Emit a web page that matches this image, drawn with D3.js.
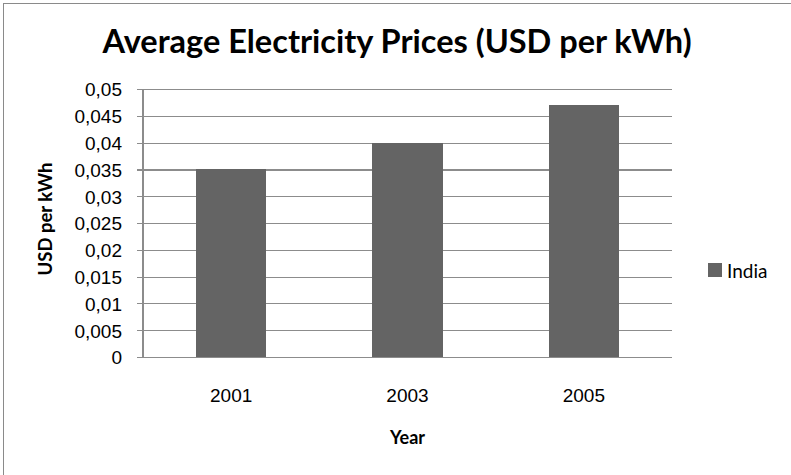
<!DOCTYPE html>
<html>
<head>
<meta charset="utf-8">
<script src="https://cdn.jsdelivr.net/npm/d3@7"></script>
<style>
  html, body { margin: 0; padding: 0; background: #fff; }
  svg { display: block; font-family: Lato, "Open Sans", sans-serif; }
</style>
</head>
<body>
<svg id="chart" width="791" height="475"></svg>
<script>
// Average electricity prices for India, USD per kWh
const years = ["2001", "2003", "2005"];
const prices = [0.035, 0.040, 0.047];
const seriesName = "India";
const yTicks = [0, 0.005, 0.01, 0.015, 0.02, 0.025, 0.03, 0.035, 0.04, 0.045, 0.05];

const svg = d3.select("#chart");
const W = 791, H = 475;
const margin = { left: 143, right: W - 672, top: 89, bottom: H - 357 };
const barColor = "#646464";
const gridColor = "#8c8c8c";

// Chart frame
svg.append("rect")
  .attr("x", 3.5).attr("y", 3.5)
  .attr("width", 820).attr("height", 500)
  .attr("fill", "#fff")
  .attr("stroke", "#8a8a8a").attr("stroke-width", 1);

const x = d3.scaleBand()
  .domain(years)
  .range([margin.left, W - margin.right])
  .paddingInner(0.6).paddingOuter(0.3);

const y = d3.scaleLinear()
  .domain([0, 0.05])
  .range([H - margin.bottom, margin.top]);

const fmt = v => d3.format("")(+v.toFixed(3)).replace(".", ",");

// Horizontal gridlines with ticks
const yAxis = d3.axisLeft(y)
  .tickValues(yTicks)
  .tickSize(-(W - margin.left - margin.right))
  .tickPadding(0)
  .tickFormat(fmt);

const gy = svg.append("g")
  .attr("transform", `translate(${margin.left},0)`)
  .call(yAxis);
gy.select(".domain").remove();
gy.selectAll(".tick line")
  .attr("x1", -6)
  .attr("stroke", gridColor)
  .attr("stroke-width", 1.2)
  .attr("shape-rendering", "crispEdges");
gy.selectAll(".tick text")
  .attr("x", -21)
  .attr("dy", "0.36em")
  .attr("font-size", 19)
  .attr("fill", "#000");

// Vertical axis line
svg.append("line")
  .attr("x1", margin.left).attr("x2", margin.left)
  .attr("y1", margin.top).attr("y2", H - margin.bottom)
  .attr("stroke", gridColor).attr("stroke-width", 1.2)
  .attr("shape-rendering", "crispEdges");

// Bars
svg.append("g").selectAll("rect")
  .data(prices)
  .join("rect")
  .attr("x", (d, i) => x(years[i]))
  .attr("width", x.bandwidth())
  .attr("y", d => y(d))
  .attr("height", d => y(0) - y(d))
  .attr("fill", barColor)
  .attr("shape-rendering", "crispEdges");

// Category labels
const xAxis = d3.axisBottom(x).tickSize(0).tickPadding(0);
const gx = svg.append("g")
  .attr("transform", `translate(0,${H - margin.bottom})`)
  .call(xAxis);
gx.select(".domain").remove();
gx.selectAll(".tick text")
  .attr("y", 45)
  .attr("dy", 0)
  .attr("font-size", 19)
  .attr("fill", "#000");

// Title
svg.append("text")
  .attr("x", 397).attr("y", 53)
  .attr("text-anchor", "middle")
  .attr("font-size", 32.5)
  .attr("font-weight", "bold")
  .attr("fill", "#000")
  .text("Average Electricity Prices (USD per kWh)");

// Axis titles
svg.append("text")
  .attr("x", (margin.left + W - margin.right) / 2)
  .attr("y", 444)
  .attr("text-anchor", "middle")
  .attr("font-size", 18)
  .attr("font-weight", "bold")
  .text("Year");

svg.append("text")
  .attr("transform", "translate(52,219) rotate(-90)")
  .attr("text-anchor", "middle")
  .attr("font-size", 18.5)
  .attr("font-weight", "bold")
  .text("USD per kWh");

// Legend
const legend = svg.append("g").attr("transform", "translate(708,263)");
legend.append("rect")
  .attr("width", 14).attr("height", 14)
  .attr("fill", barColor);
legend.append("text")
  .attr("x", 19).attr("y", 14.5)
  .attr("font-size", 19)
  .text(seriesName);
</script>
</body>
</html>
